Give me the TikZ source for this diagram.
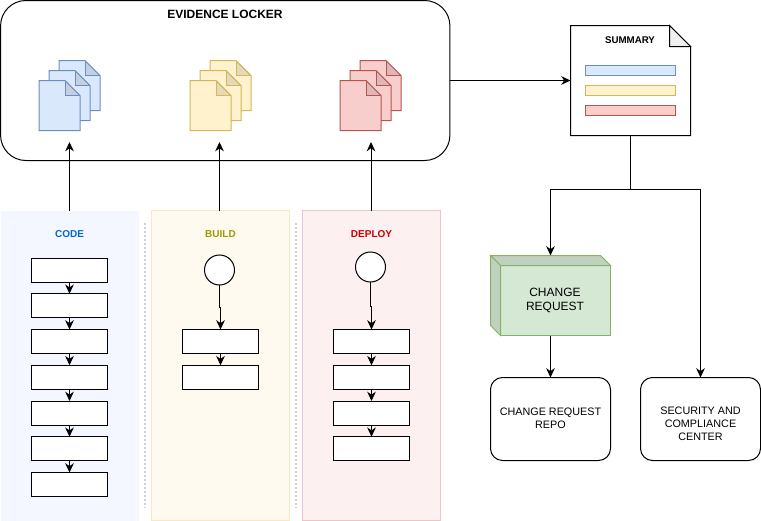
\documentclass[tikz,border=0pt]{standalone}
\usepackage{fontspec}
\setmainfont{Liberation Sans}
\usetikzlibrary{arrows.meta}
\definecolor{blueface}{HTML}{DAE8FC}
\definecolor{blueline}{HTML}{6C8EBF}
\definecolor{yellowface}{HTML}{FFF2CC}
\definecolor{yellowline}{HTML}{D6B656}
\definecolor{redface}{HTML}{F8CECC}
\definecolor{redline}{HTML}{B85450}
\definecolor{greenface}{HTML}{D5E8D4}
\definecolor{greenline}{HTML}{82B366}
\definecolor{codelane}{HTML}{F4F7FF}
\definecolor{buildlane}{HTML}{FFFAF0}
\definecolor{buildedge}{HTML}{F7E9C0}
\definecolor{deploylane}{HTML}{FCF0F1}
\definecolor{deployedge}{HTML}{F0C4C4}
\definecolor{codetext}{HTML}{0066CC}
\definecolor{buildtext}{HTML}{999900}
\definecolor{deploytext}{HTML}{CC0000}
\definecolor{sepgray}{HTML}{D0D0D0}

\begin{document}
\begin{tikzpicture}[x=0.75pt,y=-0.75pt,inner sep=0pt,outer sep=0pt,line width=0.75pt,
>={Stealth[length=7pt,width=6.5pt]},
lockerbox/.style={draw,rectangle,rounded corners=19pt,minimum width=337pt,minimum height=120pt},
lane/.style={rectangle,minimum width=103.5pt,minimum height=232.5pt},
stepbox/.style={draw,fill=white,rectangle,minimum width=57pt,minimum height=18pt},
startdot/.style={draw,fill=white,circle,minimum size=22.5pt},
endbox/.style={draw,rectangle,rounded corners=9pt,minimum width=90pt,minimum height=62.25pt},
endlabel/.style={align=center,font=\fontsize{8.1}{9.6}\selectfont},
sumbar/.style={draw,rectangle,minimum width=67.5pt,minimum height=7.5pt},
lanetitle/.style={font=\fontsize{7.5}{9}\selectfont\bfseries},
lanesep/.style={draw=sepgray,line width=1.5pt,dash pattern=on 1.5pt off 1.5pt},
pics/filedoc/.style n args={2}{code={
	\draw[draw=#2,fill=#1] (0,0) -- (26,0) -- (41,15) -- (41,50) -- (0,50) -- cycle;
	\fill[black,opacity=.1] (26,0) -- (41,15) -- (26,15) -- cycle;
	\draw[draw=#2] (26,0) -- (26,15) -- (41,15);
}}]
\useasboundingbox (0,0) rectangle (761,521);

%%% Locker and its documents %%%%%
\draw (225.25,80.5) node[lockerbox] (locker) {};
\draw (225,14) node[font=\fontsize{9}{11}\selectfont\bfseries] (lockertitle) {EVIDENCE LOCKER};

\foreach \dx/\cface/\cline in {39/blueface/blueline,190/yellowface/yellowline,340/redface/redline}{
	\foreach \off in {20,10,0}{
		\pic at (\dx+\off,80.5-\off) {filedoc={\cface}{\cline}};
	}
}
%%%%%%%%%%%%%%%%%%%%%%%%%

%%% Lanes
\draw (70,365.5) node[lane,fill=codelane] (lanecode) {};
\draw (220.5,365.5) node[lane,draw=buildedge,fill=buildlane] (lanebuild) {};
\draw (371,365.5) node[lane,draw=deployedge,fill=deploylane] (lanedeploy) {};

\draw (69.5,234) node[lanetitle,text=codetext] (titlecode) {CODE};
\draw (220.5,234) node[lanetitle,text=buildtext] (titlebuild) {BUILD};
\draw (371.5,234) node[lanetitle,text=deploytext] (titledeploy) {DEPLOY};

	%%% Dotted separators, free ends
	\coordinate (sepa) at (145,223);
	\coordinate (sepb) at (145,508);
	\coordinate (sepc) at (296,223);
	\coordinate (sepd) at (296,508);
	\draw[lanesep] (sepa) -- (sepb);
	\draw[lanesep] (sepc) -- (sepd);

%%% Code steps
\foreach \n/\y in {1/270,2/305.75,3/341.5,4/377.25,5/413,6/448.75,7/484.5}{
	\draw (69.5,\y) node[stepbox] (code\n) {};
}
\foreach \a/\b in {1/2,2/3,3/4,4/5,5/6,6/7}{
	\draw[->] (code\a.270) -- (code\b.90);
}

%%% Build steps
\draw (219.5,270) node[startdot] (startbuild) {};
\draw (220.5,341.5) node[stepbox] (build1) {};
\draw (220.5,377.25) node[stepbox] (build2) {};
\draw[->] (startbuild.270) -- ++(0,22) -| (build1.90);
\draw[->] (build1.270) -- (build2.90);

%%% Deploy steps
\draw (370.5,267) node[startdot] (startdeploy) {};
\foreach \n/\y in {1/341.5,2/377.25,3/413,4/448.75}{
	\draw (371.5,\y) node[stepbox] (deploy\n) {};
}
\draw[->] (startdeploy.270) -- ++(0,24) -| (deploy1.90);
\foreach \a/\b in {1/2,2/3,3/4}{
	\draw[->] (deploy\a.270) -- (deploy\b.90);
}

%%% Lanes into locker
	\coordinate (incode) at (69.5,142);
	\coordinate (inbuild) at (219.5,142);
	\coordinate (indeploy) at (371,142);
\draw[->] (incode |- lanecode.90) -- (incode);
\draw[->] (inbuild |- lanebuild.90) -- (inbuild);
\draw[->] (indeploy |- lanedeploy.90) -- (indeploy);

%%% Summary sheet
\draw (630.5,80.5) node[rectangle,minimum width=90pt,minimum height=82.5pt] (summary) {};
\draw (summary.north west) -- ++(99,0) -- ++(21,21) |- (summary.south west) -- cycle;
\fill[black!6] (669.5,25.5) -- (690.5,46.5) -- (669.5,46.5) -- cycle;
\draw (669.5,25.5) -- (669.5,46.5) -- (690.5,46.5) -- cycle;
\draw (630,40) node[font=\fontsize{7.3}{8}\selectfont\bfseries] (sumtitle) {SUMMARY};
\draw (630.5,70.5) node[sumbar,draw=blueline,fill=blueface] (barblue) {};
\draw (630.5,90.5) node[sumbar,draw=yellowline,fill=yellowface] (baryellow) {};
\draw (630.5,110.5) node[sumbar,draw=redline,fill=redface] (barred) {};

\draw[->] (locker.0) -- (summary.180);

%%% Change request block
\draw (555.5,300.5) node[draw=greenline,fill=greenface,rectangle,minimum width=82.5pt,minimum height=52.5pt] (chgreq) {};
\draw (555,300.5) node[align=center,font=\fontsize{9}{10.5}\selectfont] (chglabel) {CHANGE\\REQUEST};
\draw[draw=greenline,fill=greenface!90!black] (chgreq.north west) -- ++(-10,-10) -- ++(110,0) -- (chgreq.north east) -- cycle;
\draw[draw=greenline,fill=greenface!90!black] (chgreq.north west) -- ++(-10,-10) -- ++(0,70) -- (chgreq.south west) -- cycle;
	\coordinate (chgtop) at (550.5,255.5);

%%% Bottom right boxes
\draw (550.5,419) node[endbox] (crrepo) {};
\draw (550.5,418) node[endlabel] (crrepolabel) {CHANGE REQUEST\\REPO};
\draw (700.5,419) node[endbox] (scc) {};
\draw (700.5,424) node[endlabel] (scclabel) {SECURITY AND\\COMPLIANCE\\CENTER};

%%% Summary outputs
\draw[-] (summary.270) -- ++(0,54) coordinate (split);
\draw[->] (split) -| (chgtop);
\draw[->] (split) -| (scc.90);
\draw[->] (crrepo.90 |- chgreq.270) -- (crrepo.90);

\end{tikzpicture}
\end{document}
